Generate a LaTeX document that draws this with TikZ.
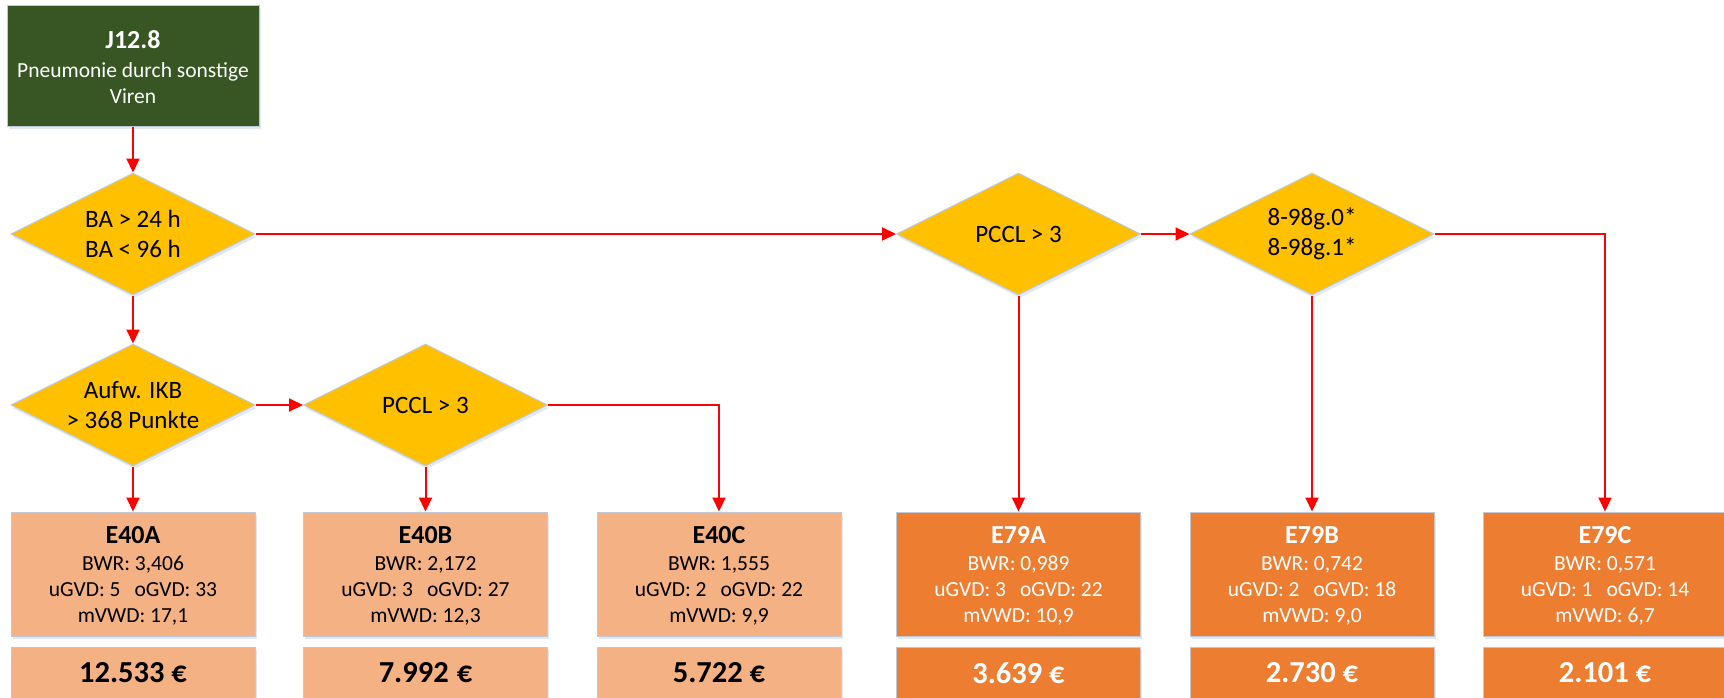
\documentclass[tikz,border=0pt]{standalone}
\usepackage{fontspec}
\setmainfont{Carlito}
\usetikzlibrary{shapes.geometric,arrows.meta,shadows}
\definecolor{dgreen}{HTML}{375623}
\definecolor{gold}{HTML}{FFC000}
\definecolor{lorange}{HTML}{F4B183}
\definecolor{dorange}{HTML}{ED7D31}
\definecolor{edgec}{HTML}{BFC8D4}
\definecolor{shade}{HTML}{A9BEDC}
\begin{document}
\begin{tikzpicture}[x=1pt,y=-1pt,
  sh/.style={drop shadow={shadow xshift=1.5pt,shadow yshift=-3pt,fill=shade,opacity=0.35}},
  gbox/.style={rectangle,fill=dgreen,draw=edgec,line width=1pt,minimum width=252pt,minimum height=121pt,inner sep=0pt,sh},
  dia/.style={diamond,fill=gold,draw=edgec,line width=1pt,minimum width=244pt,minimum height=122pt,inner sep=0pt,sh},
  lbox/.style={rectangle,fill=lorange,draw=edgec,line width=1pt,minimum width=244pt,minimum height=124pt,inner sep=0pt,sh},
  dbox/.style={rectangle,fill=dorange,draw=edgec,line width=1pt,minimum width=244pt,minimum height=124pt,inner sep=0pt,sh},
  lprice/.style={lbox,minimum height=60pt},
  dprice/.style={dbox,minimum height=60pt},
  gtext/.style={align=center,text=white,font=\fontsize{21.5}{26.5}\selectfont},
  dtext/.style={align=center,text=black,font=\fontsize{25}{30}\selectfont},
  btext/.style={align=center,font=\fontsize{21.5}{26}\selectfont},
  ptext/.style={font=\fontsize{30.5}{36}\selectfont\bfseries},
  conn/.style={draw=red,line width=2pt,-{Triangle[width=13pt,length=14pt]}}
]
\clip (0,0) rectangle (1724,697);
% top box
\node[gbox] (j) at (133,65.5) {};
\node[gtext] (jt) at ([yshift=-2pt]j.center) {{\bfseries\fontsize{26}{30}\selectfont J12.8}\\[2pt]Pneumonie durch sonstige\\Viren};
% diamonds
\node[dia] (ba) at (133,234) {};
\node[dtext] (bat) at (ba) {BA > 24 h\\BA < 96 h};
\node[dia] (aufw) at (133,405) {};
\node[dtext] (aufwt) at (aufw) {Aufw. IKB\\> 368 Punkte};
\node[dia] (pa) at (425.5,405) {};
\node[dtext] (pat) at (pa) {PCCL > 3};
\node[dia] (pb) at (1018.5,234) {};
\node[dtext] (pbt) at (pb) {PCCL > 3};
\node[dia] (op) at (1312,234) {};
\node[dtext] (opt) at (op) {8-98g.0*\\8-98g.1*};
% result boxes
\newcommand{\drgtxt}[4]{{\bfseries\fontsize{26}{29}\selectfont #1}\\[1pt]BWR: #2\\#3\\mVWD: #4}
\node[lbox] (e40a) at (133,574) {};
\node[btext] at ([yshift=-2pt]e40a.center) {\drgtxt{E40A}{3,406}{uGVD: 5\hspace{14pt}oGVD: 33}{17,1}};
\node[lbox] (e40b) at (425.5,574) {};
\node[btext] at ([yshift=-2pt]e40b.center) {\drgtxt{E40B}{2,172}{uGVD: 3\hspace{14pt}oGVD: 27}{12,3}};
\node[lbox] (e40c) at (719,574) {};
\node[btext] at ([yshift=-2pt]e40c.center) {\drgtxt{E40C}{1,555}{uGVD: 2\hspace{14pt}oGVD: 22}{9,9}};
\node[dbox] (e79a) at (1018.5,574) {};
\node[btext,text=white] at ([yshift=-2pt]e79a.center) {\drgtxt{E79A}{0,989}{uGVD: 3\hspace{14pt}oGVD: 22}{10,9}};
\node[dbox] (e79b) at (1312,574) {};
\node[btext,text=white] at ([yshift=-2pt]e79b.center) {\drgtxt{E79B}{0,742}{uGVD: 2\hspace{14pt}oGVD: 18}{9,0}};
\node[dbox] (e79c) at (1605,574) {};
\node[btext,text=white] at ([yshift=-2pt]e79c.center) {\drgtxt{E79C}{0,571}{uGVD: 1\hspace{14pt}oGVD: 14}{6,7}};
% price boxes
\node[lprice] (p40a) at (133,677) {};
\node[ptext] at (133,673) {12.533 €};
\node[lprice] (p40b) at (425.5,677) {};
\node[ptext] at (425.5,673) {7.992\hspace{8pt}€};
\node[lprice] (p40c) at (719,677) {};
\node[ptext] at (719,673) {5.722 €};
\node[dprice] (p79a) at (1018.5,677) {};
\node[ptext,text=white] at (1018.5,673) {3.639 €};
\node[dprice] (p79b) at (1312,677) {};
\node[ptext,text=white] at (1312,673) {2.730 €};
\node[dprice] (p79c) at (1605,677) {};
\node[ptext,text=white] at (1605,673) {2.101 €};
% connectors
\draw[conn] (j.south) -- (ba.north);
\draw[conn] (ba.east) -- (pb.west);
\draw[conn] (pb.east) -- (op.west);
\draw[conn] (op.east) -| (e79c.north);
\draw[conn] (pb.south) -- (e79a.north);
\draw[conn] (op.south) -- (e79b.north);
\draw[conn] (ba.south) -- (aufw.north);
\draw[conn] (aufw.east) -- (pa.west);
\draw[conn] (aufw.south) -- (e40a.north);
\draw[conn] (pa.south) -- (e40b.north);
\draw[conn] (pa.east) -| (e40c.north);
\end{tikzpicture}
\end{document}
